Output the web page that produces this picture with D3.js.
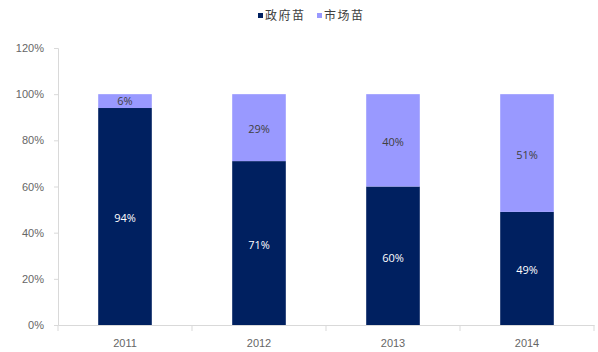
<!DOCTYPE html>
<html>
<head>
<meta charset="utf-8">
<script src="https://cdn.jsdelivr.net/npm/d3@7"></script>
<style>
  body { margin: 0; background: #fff; }
  svg { display: block; font-family: "Open Sans", "Noto Sans CJK SC", sans-serif; }
</style>
</head>
<body>
<svg id="chart" width="598" height="352"></svg>
<script>
// Share of vaccine supply by year: government-procured vs. market
const years = ["2011", "2012", "2013", "2014"];
const govShare = [94, 71, 60, 49];
const marketShare = [6, 29, 40, 51];
const yTicks = [0, 20, 40, 60, 80, 100, 120];
const seriesNames = ["政府苗", "市场苗"];
const seriesColors = ["#002060", "#9999FF"];
const labelColors = ["#ffffff", "#404040"];

const svg = d3.select("#chart");
const margin = { left: 58, right: 594, top: 48, bottom: 325 };

const x = d3.scaleBand()
  .domain(years)
  .range([margin.left, margin.right])
  .paddingInner(0.6)
  .paddingOuter(0.3);

const y = d3.scaleLinear()
  .domain([0, 120])
  .range([margin.bottom, margin.top]);

// Y axis
const yAxis = svg.append("g")
  .attr("transform", `translate(${margin.left},0)`)
  .call(d3.axisLeft(y).tickValues(yTicks).tickFormat(d => d + "%").tickSize(4).tickPadding(10));
yAxis.select(".domain").attr("stroke", "#d9d9d9");
yAxis.selectAll(".tick line").attr("stroke", "#d9d9d9");
yAxis.selectAll(".tick text").attr("fill", "#666666").attr("font-size", 11);

// X axis with boundary ticks between categories
const xAxis = svg.append("g")
  .attr("transform", `translate(0,${margin.bottom})`)
  .call(d3.axisBottom(x).tickSize(0).tickPadding(14));
xAxis.select(".domain").attr("stroke", "#d9d9d9");
xAxis.selectAll(".tick text").attr("fill", "#666666").attr("font-size", 11);
const step = x.step();
const boundaries = d3.range(years.length + 1).map(i => margin.left + i * step);
xAxis.selectAll(".bound")
  .data(boundaries)
  .join("line")
  .attr("class", "bound")
  .attr("x1", d => d).attr("x2", d => d)
  .attr("y1", 0).attr("y2", 6)
  .attr("stroke", "#d9d9d9");

// Stacked bars
const rows = years.map((yr, i) => ({ year: yr, gov: govShare[i], market: marketShare[i] }));
const stack = d3.stack().keys(["gov", "market"])(rows);

const layers = svg.append("g").selectAll("g")
  .data(stack)
  .join("g")
  .attr("fill", (d, i) => seriesColors[i]);

layers.selectAll("rect")
  .data(d => d)
  .join("rect")
  .attr("x", d => x(d.data.year))
  .attr("width", x.bandwidth())
  .attr("y", d => y(d[1]))
  .attr("height", d => y(d[0]) - y(d[1]));

// Value labels centered in each segment (kept inside short segments)
stack.forEach((layer, li) => {
  svg.append("g").selectAll("text")
    .data(layer)
    .join("text")
    .attr("x", d => x(d.data.year) + x.bandwidth() / 2)
    .attr("y", d => Math.min((y(d[0]) + y(d[1])) / 2 + 2, y(d[0]) - 6.5))
    .attr("dy", "0.35em")
    .attr("text-anchor", "middle")
    .attr("font-size", 11)
    .attr("fill", labelColors[li])
    .text(d => (d[1] - d[0]) + "%");
});

// Legend
const legendItems = [{ x: 258 }, { x: 317 }];
const legend = svg.append("g");
legendItems.forEach((it, i) => {
  legend.append("rect")
    .attr("x", it.x).attr("y", 13)
    .attr("width", 5).attr("height", 5)
    .attr("fill", seriesColors[i]);
  legend.append("text")
    .attr("x", it.x + 7).attr("y", 16)
    .attr("dy", "0.35em")
    .attr("font-size", 12)
    .attr("letter-spacing", 1.5)
    .attr("fill", "#404040")
    .attr("font-family", "Noto Sans CJK SC")
    .text(seriesNames[i]);
});
</script>
</body>
</html>
